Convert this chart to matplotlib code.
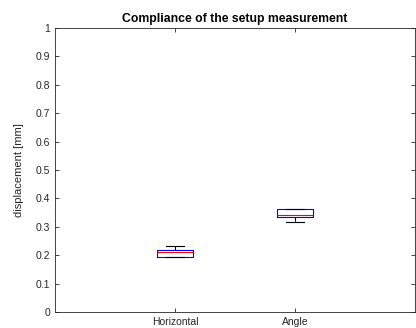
import matplotlib
matplotlib.use("Agg")
from matplotlib import pyplot as plt

plt.rcParams['font.family'] = ['Liberation Sans', 'DejaVu Sans']

# box statistics
labels = ["Horizontal", "Angle"]
q1 = [0.194, 0.336]
med = [0.211, 0.343]
q3 = [0.218, 0.362]
whislo = [0.194, 0.317]
whishi = [0.233, 0.362]

stats = []
for i in range(len(labels)):
    stats.append({"label": labels[i], "q1": q1[i], "med": med[i], "q3": q3[i],
                  "whislo": whislo[i], "whishi": whishi[i], "fliers": []})

fig = plt.figure(figsize=(4.16, 3.28), dpi=100)
ax = fig.add_axes([0.132, 0.0488, 0.866, 0.866])

ax.bxp(stats, positions=[1, 2], widths=0.3, showfliers=False,
       boxprops=dict(color="blue", linewidth=0.8),
       medianprops=dict(color="red", linewidth=0.8),
       whiskerprops=dict(color="black", linewidth=0.8, linestyle="--"),
       capprops=dict(color="black", linewidth=0.8))

ax.set_xlim(0, 3)
ax.set_ylim(0, 1)
ax.set_yticks([i / 10 for i in range(11)])
ax.set_yticklabels(["0", "0.1", "0.2", "0.3", "0.4", "0.5", "0.6", "0.7", "0.8", "0.9", "1"])
ax.tick_params(direction="in", top=True, right=True, labelsize=7.5, colors="#262626",
               length=3, width=0.6)
for s in ax.spines.values():
    s.set_color("#262626")
    s.set_linewidth(0.6)
ax.set_ylabel("displacement [mm]", fontsize=8, color="#262626", labelpad=8)
ax.set_title("Compliance of the setup measurement", fontsize=8.8, fontweight="bold", pad=4)

fig.savefig("out.png", dpi=100)
